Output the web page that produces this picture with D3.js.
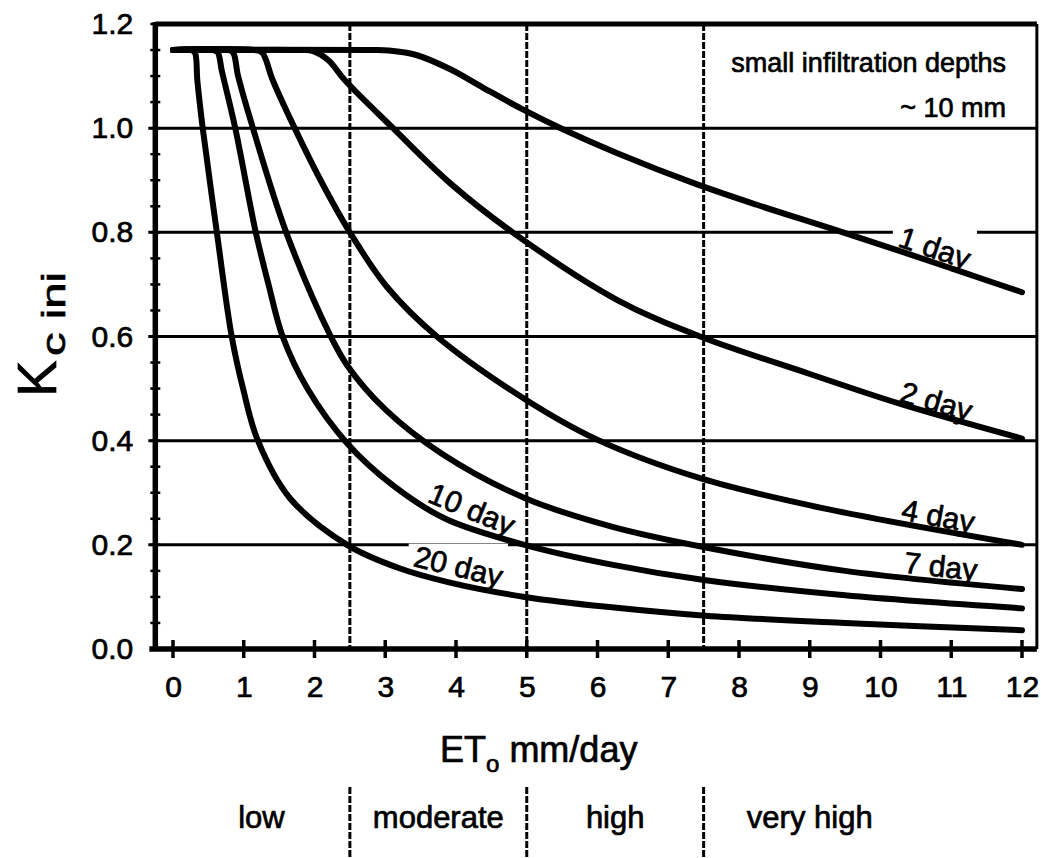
<!DOCTYPE html>
<html>
<head>
<meta charset="UTF-8">
<title>Kc ini - small infiltration depths</title>
<style>
    body { margin: 0; background: #fff; }
    svg text { font-family: "Liberation Sans", Arial, sans-serif; fill: #000; }
    .heavy { stroke: #000; stroke-width: 0.7px; }
</style>
</head>
<body>
<svg></svg>
<script src="https://d3js.org/d3.v7.min.js"></script>
<script>

// Kc ini against ETo (mm/day), one list per wetting interval
let kc1day = [[0, 1.15], [2.8, 1.15], [3.05, 1.149], [3.45, 1.14], [3.92, 1.113], [4.38, 1.078],
    [4.93, 1.037], [5.51, 0.998], [6.28, 0.952], [7.35, 0.895], [8.25, 0.853], [9.33, 0.806],
    [10.32, 0.762], [11.17, 0.723], [12, 0.685]]
let kc2day = [[0, 1.15], [1.8, 1.15], [1.98, 1.148], [2.2, 1.13], [2.43, 1.092], [3.11, 1.0],
    [3.92, 0.894], [4.8, 0.8], [6.28, 0.67], [7.45, 0.6], [8.98, 0.529], [10.27, 0.471], [12, 0.404]]
let kc4day = [[0, 1.15], [1.15, 1.15], [1.26, 1.145], [1.41, 1.092], [1.72, 1.0], [2.086, 0.9],
    [2.5, 0.8], [3.025, 0.695], [3.73, 0.6], [4.97, 0.48], [5.98, 0.403], [7.45, 0.328],
    [9.2, 0.27], [12, 0.2]]
let kc7day = [[0, 1.15], [0.78, 1.15], [0.85, 1.145], [0.92, 1.1], [1.13, 1.0], [1.6, 0.8],
    [2.23, 0.6], [2.46, 0.545], [3.0, 0.46], [3.8, 0.375], [4.97, 0.29], [6.2, 0.235],
    [7.53, 0.195], [9.5, 0.15], [12, 0.115]]
let kc10day = [[0, 1.15], [0.56, 1.15], [0.63, 1.146], [0.69, 1.11], [0.88, 1.0], [1.17, 0.8],
    [1.35, 0.7], [1.55, 0.6], [1.9, 0.5], [2.46, 0.395], [3.1, 0.315], [3.85, 0.25],
    [4.97, 0.2], [6.2, 0.162], [7.53, 0.132], [9.5, 0.103], [12, 0.078]]
let kc20day = [[0, 1.15], [0.26, 1.15], [0.31, 1.145], [0.345, 1.09], [0.42, 1.0], [0.62, 0.8],
    [0.83, 0.6], [0.99, 0.5], [1.2, 0.4], [1.65, 0.29], [2.46, 0.2], [3.2, 0.155], [3.9, 0.128],
    [4.97, 0.1], [6.2, 0.08], [7.53, 0.064], [9.5, 0.05], [12, 0.036]]

let xTicks = [0, 1, 2, 3, 4, 5, 6, 7, 8, 9, 10, 11, 12]
let yTicks = [0.0, 0.2, 0.4, 0.6, 0.8, 1.0, 1.2]
let classBreaks = [2.5, 5, 7.5]
let classNames = ["low", "moderate", "high", "very high"]

let width = 1041, height = 858

let svg = d3.select("svg")
    .attr("width", width)
    .attr("height", height)

let x = d3.scaleLinear().domain([0, 12]).range([173, 1022])
let y = d3.scaleLinear().domain([0, 1.2]).range([649, 24])

let left = x(-0.25), right = x(12.21)

// horizontal grid
svg.append("g")
    .selectAll("line")
    .data(yTicks.filter(d => d > 0 && d < 1.2))
    .enter()
    .append("line")
    .attr("x1", left - 7).attr("x2", right)
    .attr("y1", d => y(d)).attr("y2", d => y(d))
    .attr("stroke", "black")
    .attr("stroke-width", 3)

// dashed class limits, in plot and in the band underneath
let dashes = svg.append("g")
    .attr("stroke", "black")
    .attr("stroke-width", 3)
    .attr("stroke-dasharray", "7,2")
dashes.selectAll("line.inplot")
    .data(classBreaks)
    .enter()
    .append("line")
    .attr("class", "inplot")
    .attr("x1", d => x(d)).attr("x2", d => x(d))
    .attr("y1", y(1.2)).attr("y2", y(0))
dashes.selectAll("line.band")
    .data(classBreaks)
    .enter()
    .append("line")
    .attr("class", "band")
    .attr("x1", d => x(d)).attr("x2", d => x(d))
    .attr("y1", 787).attr("y2", height)

// frame
svg.append("line").attr("x1", left).attr("x2", right).attr("y1", y(1.2)).attr("y2", y(1.2))
    .attr("stroke", "black").attr("stroke-width", 5)
svg.append("line").attr("x1", right).attr("x2", right).attr("y1", y(1.2)).attr("y2", y(0))
    .attr("stroke", "black").attr("stroke-width", 3)
svg.append("line").attr("x1", left).attr("x2", left).attr("y1", y(1.2) - 2).attr("y2", y(0) + 2)
    .attr("stroke", "black").attr("stroke-width", 5.5)
svg.append("line").attr("x1", left - 6).attr("x2", right).attr("y1", y(0)).attr("y2", y(0))
    .attr("stroke", "black").attr("stroke-width", 5.5)

// little marks on the left axis
svg.append("g")
    .selectAll("line")
    .data(y.ticks(24))
    .enter()
    .append("line")
    .attr("x1", left - 5).attr("x2", left + 5)
    .attr("y1", d => y(d)).attr("y2", d => y(d))
    .attr("stroke", "black")
    .attr("stroke-width", 2.5)

// x ticks cross the axis
svg.append("g")
    .selectAll("line")
    .data(xTicks)
    .enter()
    .append("line")
    .attr("x1", d => x(d)).attr("x2", d => x(d))
    .attr("y1", y(0) - 9).attr("y2", y(0) + 9)
    .attr("stroke", "black")
    .attr("stroke-width", 3.5)

// tick labels
let xAxis = svg.append("g")
    .attr("transform", "translate(0," + y(0) + ")")
    .call(d3.axisBottom(x).tickValues(xTicks).tickSize(0).tickPadding(27).tickFormat(d3.format("d")))
xAxis.select(".domain").remove()
xAxis.selectAll("text")
    .attr("class", "heavy")
    .style("font-family", "'Liberation Sans', Arial, sans-serif")
    .style("font-size", "30px")

let yAxis = svg.append("g")
    .attr("transform", "translate(" + left + ",0)")
    .call(d3.axisLeft(y).tickValues(yTicks).tickSize(0).tickPadding(22).tickFormat(d3.format(".1f")))
yAxis.select(".domain").remove()
yAxis.selectAll("text")
    .attr("class", "heavy")
    .style("font-family", "'Liberation Sans', Arial, sans-serif")
    .style("font-size", "30px")

// curves
let series = [kc1day, kc2day, kc4day, kc7day, kc10day, kc20day]

let line = d3.line()
    .x(d => x(d[0]))
    .y(d => y(d[1]))
    .curve(d3.curveCatmullRom.alpha(0.5))

// curve labels
let curveLabels = [
    { text: "1 day", pts: kc1day, at: 10.23, lift: 4, knockout: true },
    { text: "2 day", pts: kc2day, at: 10.25, lift: 2 },
    { text: "4 day", pts: kc4day, at: 10.28, lift: 3 },
    { text: "7 day", pts: kc7day, at: 10.32, lift: 4 },
    { text: "10 day", pts: kc10day, at: 3.58, lift: 5 },
    { text: "20 day", pts: kc20day, at: 3.38, lift: 6, knockout: true }
]

function valueAt(pts, v) {
    let i = d3.bisector(d => d[0]).left(pts, v)
    i = Math.max(1, Math.min(pts.length - 1, i))
    let a = pts[i - 1], b = pts[i]
    return a[1] + (b[1] - a[1]) * (v - a[0]) / (b[0] - a[0])
}

let knockouts = svg.append("g")

svg.append("g")
    .selectAll("path")
    .data(series)
    .enter()
    .append("path")
    .attr("d", line)
    .attr("fill", "none")
    .attr("stroke", "black")
    .attr("stroke-width", 6)
    .attr("stroke-linecap", "round")
    .attr("stroke-linejoin", "round")

let labelGroup = svg.append("g")
curveLabels.forEach(l => {
    let px = x(l.at), py = y(valueAt(l.pts, l.at))
    let qx = x(l.at + 1.0), qy = y(valueAt(l.pts, l.at + 1.0))
    let angle = Math.atan2(qy - py, qx - px) * 180 / Math.PI
    let t = labelGroup.append("text")
        .attr("class", "heavy")
        .attr("transform", "translate(" + px + "," + (py - l.lift) + ") rotate(" + angle + ")")
        .style("font-size", "30px")
        .text(l.text)
    if (l.knockout) {
        let r = t.node().getBoundingClientRect()
        knockouts.append("rect")
            .attr("x", r.x - 2).attr("y", r.y + 4)
            .attr("width", r.width + 4).attr("height", r.height - 8)
            .attr("fill", "white")
    }
})

// note in top right corner
svg.append("text")
    .attr("class", "heavy")
    .attr("x", 1006).attr("y", 72)
    .attr("text-anchor", "end")
    .style("font-size", "27px")
    .text("small infiltration depths")
svg.append("text")
    .attr("class", "heavy")
    .attr("x", 1006).attr("y", 117)
    .attr("text-anchor", "end")
    .style("font-size", "27px")
    .text("~ 10 mm")

// axis titles
let xTitle = svg.append("text")
    .attr("class", "heavy")
    .attr("x", 440).attr("y", 762)
    .style("font-size", "36px")
xTitle.append("tspan").text("ET")
xTitle.append("tspan").attr("dy", 10).style("font-size", "24px").text("o")
xTitle.append("tspan").attr("dy", -10).text(" mm/day")

let yTitle = svg.append("g")
    .attr("transform", "translate(56,397) rotate(-90)")
yTitle.append("text")
    .attr("class", "heavy")
    .style("font-size", "55px")
    .text("K")
yTitle.append("text")
    .attr("class", "heavy")
    .attr("x", 41).attr("y", 9)
    .attr("textLength", 84)
    .attr("lengthAdjust", "spacingAndGlyphs")
    .style("font-size", "34px")
    .text("c ini")

// ETo classes under the axis
let classEdges = [0].concat(classBreaks, [10.5])
svg.append("g")
    .selectAll("text")
    .data(classNames)
    .enter()
    .append("text")
    .attr("class", "heavy")
    .attr("x", (d, i) => x((classEdges[i] + classEdges[i + 1]) / 2))
    .attr("y", 828)
    .attr("text-anchor", "middle")
    .style("font-size", "31px")
    .text(d => d)

</script>
</body>
</html>
